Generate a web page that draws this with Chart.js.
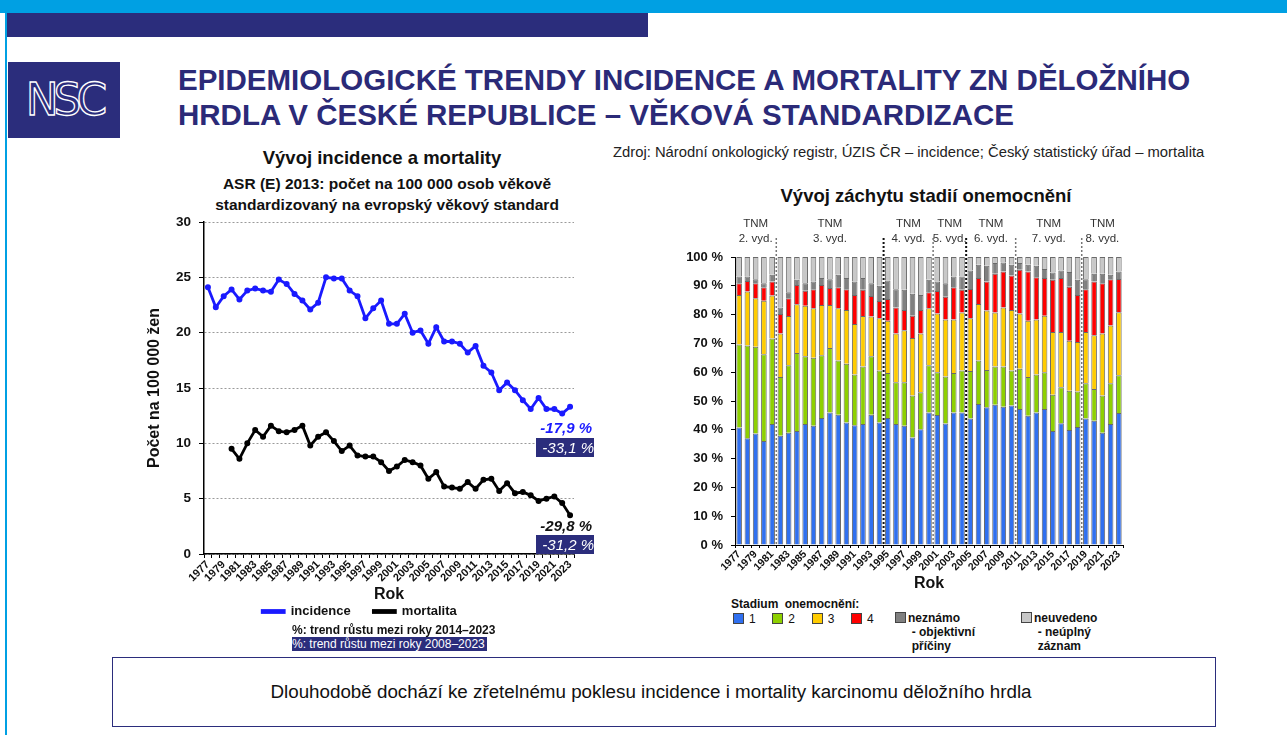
<!DOCTYPE html>
<html lang="cs">
<head>
<meta charset="UTF-8">
<title>Epidemiologické trendy ZN děložního hrdla</title>
<style>
  body { margin: 0; background: #fff; font-family: "Liberation Sans", Arial, sans-serif; }
  #slide { position: relative; width: 1287px; height: 735px; overflow: hidden; background: #fff; }
  .abs { position: absolute; white-space: nowrap; }
  #topStrip { left: 0; top: 0; width: 1287px; height: 13px; background: #00a0e3; }
  #navyBar { left: 6px; top: 13px; width: 642px; height: 24px; background: #2b2d7c; }
  #leftLine { left: 5px; top: 0; width: 2px; height: 735px; background: #00a0e3; }
  #logo { left: 8px; top: 62px; width: 112px; height: 76px; background: #2b2d7c; color: #2b2d7c;
          font: 44px "DejaVu Sans", sans-serif; letter-spacing: -5px; line-height: 76px; text-align: center;
          -webkit-text-stroke: 1.3px #fff; }
  #title { left: 178px; top: 62px; font-weight: bold; font-size: 29.5px; line-height: 35px; color: #2b2a78; }
  #source { left: 613px; top: 144px; font-size: 14.8px; color: #222; }
  .chartTitle { font-weight: bold; color: #111; text-align: center; }
  canvas { position: absolute; }
  .pct { font-style: italic; font-size: 15px; text-align: right; width: 58px; }
  .box { background: #2b2d7c; color: #fff; }
  .legTxt { font-size: 12px; font-weight: bold; color: #111; line-height: 14px; }
  .sq { display: inline-block; width: 9px; height: 9px; border: 1px solid #444; vertical-align: -1px; margin-right: 5px; }
  #bottomBox { left: 112px; top: 657px; width: 1076px; height: 68px; padding-right: 26px; border: 1.5px solid #2b2d7c;
               font-size: 18.8px; color: #111; text-align: center; line-height: 68px; }
</style>
</head>
<body>
<div id="slide">
  <div id="topStrip" class="abs"></div>
  <div id="navyBar" class="abs"></div>
  <div id="leftLine" class="abs"></div>
  <div id="logo" class="abs">NSC</div>
  <div id="title" class="abs">EPIDEMIOLOGICKÉ TRENDY INCIDENCE A MORTALITY ZN DĚLOŽNÍHO<br>HRDLA V ČESKÉ REPUBLICE – VĚKOVÁ STANDARDIZACE</div>
  <div id="source" class="abs">Zdroj: Národní onkologický registr, ÚZIS ČR – incidence; Český statistický úřad – mortalita</div>

  <div class="abs chartTitle" style="left:232px; top:147px; width:300px; font-size:18.5px;">Vývoj incidence a mortality</div>
  <div class="abs chartTitle" style="left:187px; top:173px; width:400px; font-size:15.5px; line-height:21px;">ASR (E) 2013: počet na 100 000 osob věkově<br>standardizovaný na evropský věkový standard</div>
  <div class="abs chartTitle" style="left:776px; top:185px; width:300px; font-size:18.5px;">Vývoj záchytu stadií onemocnění</div>

  <canvas id="trendChart" width="455" height="428" style="left:145px; top:200px;"></canvas>
  <canvas id="stageChart" width="464" height="393" style="left:676px; top:200px;"></canvas>

  <div class="abs pct" style="left:534px; top:419px; color:#1a1aff; font-weight:bold;">-17,9 %</div>
  <div class="abs pct box" style="left:536px; top:438px; height:19px; line-height:19px;">-33,1 %</div>
  <div class="abs pct" style="left:534px; top:517px; color:#111; font-weight:bold;">-29,8 %</div>
  <div class="abs pct box" style="left:536px; top:535px; height:19px; line-height:19px;">-31,2 %</div>

  <div class="abs legTxt" style="left:292px; top:623px;">%: trend růstu mezi roky 2014–2023</div>
  <div class="abs legTxt box" style="left:292px; top:637px; font-weight:normal; color:#fff; padding-right:2px;">%: trend růstu mezi roky 2008–2023</div>

  <div class="abs legTxt" style="left:731px; top:597px; word-spacing:3px;">Stadium onemocnění:</div>
  <div class="abs legTxt" style="left:733px; top:612px; font-weight:normal;">
    <span class="sq" style="background:#3070f0"></span>1&nbsp;&nbsp;&nbsp;&nbsp;
    <span class="sq" style="background:#8ed000"></span>2&nbsp;&nbsp;&nbsp;&nbsp;
    <span class="sq" style="background:#ffcc00"></span>3&nbsp;&nbsp;&nbsp;&nbsp;
    <span class="sq" style="background:#ff0000"></span>4
  </div>
  <div class="abs legTxt" style="left:895px; top:611px;"><span class="sq" style="background:#808080; margin-right:2px;"></span>neznámo<br>&nbsp;&nbsp;&nbsp;&nbsp;&nbsp;- objektivní<br>&nbsp;&nbsp;&nbsp;&nbsp;&nbsp;příčiny</div>
  <div class="abs legTxt" style="left:1021px; top:611px;"><span class="sq" style="background:#c8c8c8; margin-right:2px;"></span>neuvedeno<br>&nbsp;&nbsp;&nbsp;&nbsp;&nbsp;- neúplný<br>&nbsp;&nbsp;&nbsp;&nbsp;&nbsp;záznam</div>

  <div id="bottomBox" class="abs">Dlouhodobě dochází ke zřetelnému poklesu incidence i mortality karcinomu děložního hrdla</div>
</div>

<script src="https://cdn.jsdelivr.net/npm/chart.js"></script>
<script>
  // --- data ---
  const years = ['1977','1978','1979','1980','1981','1982','1983','1984','1985','1986',
                 '1987','1988','1989','1990','1991','1992','1993','1994','1995','1996',
                 '1997','1998','1999','2000','2001','2002','2003','2004','2005','2006',
                 '2007','2008','2009','2010','2011','2012','2013','2014','2015','2016',
                 '2017','2018','2019','2020','2021','2022','2023'];

  const incidence = [24.1, 22.3, 23.3, 23.9, 23.0, 23.8, 24.0, 23.8, 23.7, 24.8,
                     24.4, 23.5, 22.9, 22.1, 22.7, 25.0, 24.9, 24.9, 23.8, 23.3,
                     21.3, 22.2, 22.9, 20.8, 20.8, 21.7, 20.0, 20.2, 19.0, 20.5,
                     19.2, 19.2, 19.0, 18.2, 18.8, 17.0, 16.4, 14.8, 15.5, 14.8,
                     13.9, 13.1, 14.1, 13.1, 13.1, 12.7, 13.3];

  const mortality = [null, null, null, 9.5, 8.6, 10.0, 11.2, 10.6, 11.6, 11.1,
                     11.0, 11.2, 11.6, 9.8, 10.6, 11.0, 10.2, 9.3, 9.8, 8.9,
                     8.8, 8.8, 8.3, 7.5, 7.9, 8.5, 8.3, 8.0, 6.8, 7.4,
                     6.1, 6.0, 5.9, 6.5, 5.9, 6.7, 6.8, 5.7, 6.4, 5.5,
                     5.6, 5.3, 4.8, 5.0, 5.2, 4.6, 3.5];

  // stage shares in % (stage 1 .. 4, unknown, not stated)
  const stage1 = [40.8, 37.1, 38.7, 36.1, 42.0, 37.9, 39.0, 39.6, 42.0, 41.4,
                  44.1, 46.0, 45.2, 42.5, 41.6, 42.0, 45.2, 42.5, 44.1, 42.0,
                  41.4, 37.3, 40.2, 46.0, 45.1, 42.2, 46.0, 46.0, 43.9, 49.0,
                  47.8, 48.7, 48.0, 48.4, 47.2, 44.9, 46.0, 47.2, 39.6, 42.3,
                  39.9, 41.0, 43.9, 43.1, 39.0, 42.0, 45.8];
  const stage2 = [28.8, 32.2, 30.1, 30.1, 29.7, 20.4, 23.4, 27.1, 23.5, 23.6,
                  21.8, 22.4, 18.9, 20.4, 17.6, 20.0, 20.3, 18.1, 15.6, 14.5,
                  15.1, 14.6, 12.8, 16.4, 14.9, 16.3, 13.7, 14.6, 16.5, 15.1,
                  13.0, 13.3, 14.0, 12.2, 14.0, 13.4, 13.2, 12.8, 12.6, 12.5,
                  13.7, 12.3, 12.3, 11.1, 12.9, 14.2, 13.1];
  const stage3 = [17.2, 18.7, 16.9, 18.6, 14.9, 15.1, 17.1, 16.9, 17.6, 17.2,
                  17.4, 14.9, 18.1, 18.7, 17.5, 17.5, 13.8, 18.1, 18.2, 16.9,
                  18.1, 20.0, 20.4, 19.8, 20.4, 19.8, 18.6, 20.1, 18.3, 19.6,
                  20.6, 18.7, 20.5, 21.0, 19.2, 19.6, 19.1, 19.6, 21.8, 19.2,
                  17.3, 17.2, 17.8, 18.6, 21.5, 20.0, 21.9];
  const stage4 = [4.1, 3.7, 5.2, 4.7, 4.9, 6.8, 6.2, 6.7, 5.2, 6.6,
                  7.0, 5.9, 7.3, 7.2, 10.1, 9.1, 7.2, 6.0, 7.5, 9.1,
                  7.0, 7.7, 8.2, 5.6, 7.8, 7.9, 11.2, 7.9, 10.2, 9.0,
                  10.1, 13.5, 12.5, 12.0, 15.2, 17.1, 14.7, 13.1, 18.1, 18.7,
                  18.8, 16.3, 14.8, 18.7, 17.5, 16.1, 11.6];
  const unknown = [2.3, 1.5, 1.4, 1.4, 2.3, 2.3, 2.1, 1.8, 2.6, 2.7,
                   2.4, 3.1, 4.3, 3.9, 4.7, 4.1, 4.4, 5.3, 6.4, 6.3,
                   7.0, 7.6, 5.2, 4.3, 3.3, 4.7, 3.7, 4.6, 6.4, 4.6,
                   5.5, 3.7, 3.1, 3.7, 2.3, 2.3, 4.0, 3.1, 2.5, 2.6,
                   5.1, 5.3, 3.5, 2.7, 3.3, 1.5, 2.6];
  const notStated = [6.8, 6.8, 7.7, 9.1, 6.2, 17.5, 12.2, 7.9, 9.1, 8.5,
                     7.3, 7.7, 6.2, 7.3, 8.5, 7.3, 9.1, 10.0, 8.2, 11.2,
                     11.4, 12.8, 13.2, 7.9, 8.5, 9.1, 6.8, 6.8, 4.7, 2.7,
                     3.0, 2.1, 1.9, 2.7, 2.1, 2.7, 3.0, 4.2, 5.4, 4.7,
                     5.2, 7.9, 7.7, 5.8, 5.8, 6.2, 5.0];

  // TNM editions: divider after these category indexes
  const tnmBreaks = [4, 17, 23, 27, 33, 41];
  const tnmBreakDark = [false, true, false, true, false, false];
  const tnmLabels = ['2. vyd.', '3. vyd.', '4. vyd.', '5. vyd.', '6. vyd.', '7. vyd.', '8. vyd.'];

  Chart.defaults.font.family = '"Liberation Sans", Arial, sans-serif';
  Chart.defaults.color = '#111';

  // --- left chart: incidence and mortality ---
  new Chart(document.getElementById('trendChart'), {
    type: 'line',
    data: {
      labels: years,
      datasets: [
        { label: 'incidence', data: incidence, borderColor: '#1a1aff', backgroundColor: '#1a1aff',
          borderWidth: 2.8, pointRadius: 1.6, pointBackgroundColor: '#1a1aff', tension: 0 },
        { label: 'mortalita', data: mortality, borderColor: '#000', backgroundColor: '#000',
          borderWidth: 2.8, pointRadius: 1.6, pointBackgroundColor: '#000', tension: 0 }
      ]
    },
    options: {
      responsive: false,
      animation: false,
      layout: { padding: { top: 22, right: 26, left: 0, bottom: 0 } },
      plugins: {
        tooltip: { enabled: false },
        legend: {
          position: 'bottom',
          labels: {
            boxWidth: 22, boxHeight: 2, padding: 1, color: '#111',
            font: { size: 13, weight: 'bold' },
            // extra gap between the two entries
            generateLabels: chart => Chart.defaults.plugins.legend.labels.generateLabels(chart)
              .map((l, i) => Object.assign(l, { text: i === 0 ? l.text + '      ' : l.text }))
          }
        }
      },
      scales: {
        x: {
          offset: true,
          grid: { offset: true, drawOnChartArea: false, tickLength: 4, color: '#000' },
          border: { color: '#000', width: 1.5 },
          ticks: {
            autoSkip: false, minRotation: 45, maxRotation: 45, padding: 0, color: '#111',
            font: { size: 11, weight: 'bold' },
            callback: (v, i) => (i % 2 === 0 ? years[i] : '')
          },
          title: { display: true, text: 'Rok', color: '#111', padding: 0, font: { size: 16, weight: 'bold' } },
          afterFit: s => { s.height = 50; }
        },
        y: {
          min: 0, max: 30,
          ticks: { stepSize: 5, padding: 8, color: '#111', font: { size: 13.5, weight: 'bold' } },
          grid: { color: '#9a9a9a', tickColor: '#000', tickLength: 5 },
          border: { color: '#000', width: 1.5, dash: [2, 2] },
          title: { display: true, text: 'Počet na 100 000 žen', color: '#111', padding: 0,
                   font: { size: 16, weight: 'bold' } },
          afterFit: s => { s.width = 59; }
        }
      }
    }
  });

  // dividers and TNM edition labels above the stage bars
  const tnmPlugin = {
    id: 'tnm',
    afterDatasetsDraw(chart) {
      const ctx = chart.ctx, x = chart.scales.x, ca = chart.chartArea;
      ctx.save();
      tnmBreaks.forEach((b, i) => {
        const px = (x.getPixelForValue(b) + x.getPixelForValue(b + 1)) / 2;
        ctx.beginPath();
        ctx.setLineDash([2, 2]);
        ctx.lineWidth = tnmBreakDark[i] ? 2 : 1.5;
        ctx.strokeStyle = tnmBreakDark[i] ? '#111' : '#777';
        ctx.moveTo(px, ca.top - 19);
        ctx.lineTo(px, ca.bottom);
        ctx.stroke();
      });
      ctx.setLineDash([]);
      ctx.fillStyle = '#333';
      ctx.font = '11.5px "Liberation Sans", Arial, sans-serif';
      ctx.textAlign = 'center';
      ctx.textBaseline = 'middle';
      const edges = [-1].concat(tnmBreaks, [years.length - 1]);
      tnmLabels.forEach((lab, i) => {
        const mid = (x.getPixelForValue(edges[i] + 1) + x.getPixelForValue(edges[i + 1])) / 2;
        ctx.fillText('TNM', mid, ca.top - 33);
        ctx.fillText(lab, mid, ca.top - 18);
      });
      ctx.restore();
    }
  };

  // --- right chart: stage distribution ---
  const barStyle = { borderColor: '#6a6a6a', borderWidth: 1, barPercentage: 0.68, categoryPercentage: 1 };
  new Chart(document.getElementById('stageChart'), {
    type: 'bar',
    data: {
      labels: years,
      datasets: [
        Object.assign({ label: '1', data: stage1, backgroundColor: '#3070f0' }, barStyle),
        Object.assign({ label: '2', data: stage2, backgroundColor: '#8ed000' }, barStyle),
        Object.assign({ label: '3', data: stage3, backgroundColor: '#ffcc00' }, barStyle),
        Object.assign({ label: '4', data: stage4, backgroundColor: '#ff0000' }, barStyle),
        Object.assign({ label: 'neznámo', data: unknown, backgroundColor: '#808080' }, barStyle),
        Object.assign({ label: 'neuvedeno', data: notStated, backgroundColor: '#c8c8c8' }, barStyle)
      ]
    },
    options: {
      responsive: false,
      animation: false,
      layout: { padding: { top: 57, right: 17, left: 0, bottom: 0 } },
      plugins: { legend: { display: false }, tooltip: { enabled: false } },
      scales: {
        x: {
          stacked: true,
          grid: { offset: true, drawOnChartArea: false, tickLength: 3, color: '#000' },
          border: { color: '#000', width: 1 },
          ticks: {
            autoSkip: false, minRotation: 45, maxRotation: 45, padding: 0, color: '#111',
            font: { size: 10.5, weight: 'bold' },
            callback: (v, i) => (i % 2 === 0 ? years[i] : '')
          },
          title: { display: true, text: 'Rok', color: '#111', padding: 0, font: { size: 16, weight: 'bold' } },
          afterFit: s => { s.height = 48; }
        },
        y: {
          stacked: true, min: 0, max: 100,
          ticks: { stepSize: 10, padding: 8, color: '#111', font: { size: 13, weight: 'bold' },
                   callback: v => v + ' %' },
          grid: { drawOnChartArea: false, tickLength: 4, color: '#000' },
          border: { color: '#000', width: 1 },
          afterFit: s => { s.width = 59; }
        }
      }
    },
    plugins: [tnmPlugin]
  });
</script>
</body>
</html>
